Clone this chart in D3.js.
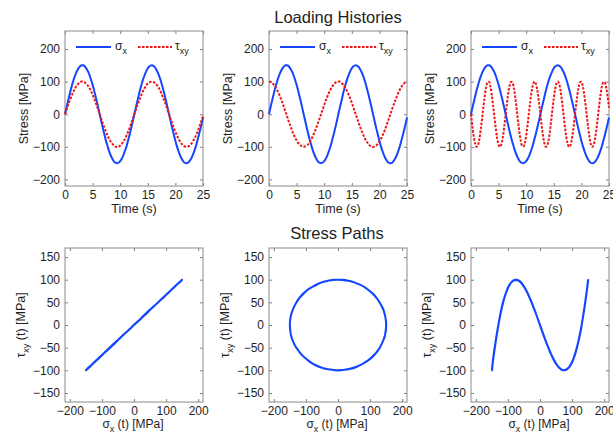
<!DOCTYPE html>
<html>
<head>
<meta charset="utf-8">
<script src="https://cdn.jsdelivr.net/npm/d3@7"></script>
<style>
  body { margin: 0; background: #fff; }
  svg { font-family: "Liberation Sans", Arial, sans-serif; }
  .tick line { stroke: #808080; }
</style>
</head>
<body>
<svg id="chart" width="613" height="434"></svg>
<script>
// sample times, 0..25 s every 0.25 s
const time = d3.range(0, 25.001, 0.25);

// sigma_x [MPa] (same in all three histories)
const sigmaX = [0, 19, 37, 55, 72, 88, 102, 115, 126, 135, 142, 147, 150, 150, 148, 143, 136, 128, 117, 104,
  90, 74, 57, 40, 21, 2, -16, -35, -53, -70, -86, -100, -114, -125, -134, -142, -147, -149, -150, -148,
  -144, -137, -129, -118, -106, -92, -76, -60, -42, -24, -5, 14, 32, 50, 68, 84, 99, 112, 123, 133,
  141, 146, 149, 150, 148, 145, 138, 130, 120, 108, 94, 78, 62, 44, 26, 7, -11, -30, -48, -65,
  -82, -97, -110, -122, -132, -140, -146, -149, -150, -149, -145, -139, -131, -121, -109, -96, -80, -64, -47, -29, -10];

// tau_xy [MPa], in phase
const tauInPhase = [0, 12, 25, 37, 48, 59, 68, 77, 84, 90, 95, 98, 100, 100, 98, 95, 91, 85, 78, 69,
  60, 49, 38, 26, 14, 2, -11, -23, -35, -46, -57, -67, -76, -83, -89, -94, -98, -100, -100, -99,
  -96, -92, -86, -79, -71, -61, -51, -40, -28, -16, -3, 9, 22, 34, 45, 56, 66, 75, 82, 89,
  94, 97, 99, 100, 99, 96, 92, 87, 80, 72, 62, 52, 41, 30, 17, 5, -8, -20, -32, -44,
  -54, -64, -73, -81, -88, -93, -97, -99, -100, -99, -97, -93, -88, -81, -73, -64, -54, -43, -31, -19, -7];

// tau_xy [MPa], 90 degrees out of phase
const tauOutPhase = [100, 99, 97, 93, 88, 81, 73, 64, 54, 43, 32, 19, 7, -5, -18, -30, -42, -53, -63, -72,
  -80, -87, -92, -96, -99, -100, -99, -97, -94, -89, -82, -74, -65, -55, -45, -33, -21, -9, 4, 16,
  28, 40, 51, 62, 71, 79, 86, 92, 96, 99, 100, 100, 98, 94, 89, 83, 75, 67, 57, 46,
  35, 23, 10, -2, -15, -27, -39, -50, -60, -70, -78, -85, -91, -96, -98, -100, -100, -98, -95, -90,
  -84, -76, -68, -58, -48, -36, -24, -12, 0, 13, 25, 37, 48, 59, 68, 77, 84, 90, 95, 98, 100];

// tau_xy [MPa], three times the frequency
const tauTriple = [0, -37, -68, -90, -100, -95, -78, -49, -14, 23, 57, 83, 98, 99, 86, 61, 28, -9, -45, -75,
  -94, -100, -92, -72, -41, -5, 32, 64, 88, 99, 97, 81, 54, 19, -18, -53, -80, -97, -99, -88,
  -65, -33, 4, 41, 71, 92, 100, 94, 75, 46, 10, -27, -61, -86, -99, -98, -84, -58, -24, 13,
  49, 77, 95, 100, 91, 69, 37, 1, -36, -68, -90, -100, -96, -78, -50, -15, 22, 57, 83, 98,
  99, 86, 62, 29, -8, -44, -74, -94, -100, -93, -72, -42, -6, 31, 64, 88, 99, 97, 81, 54, 20];

const tauCases = [tauInPhase, tauOutPhase, tauTriple];

const timeTicks = [0, 5, 10, 15, 20, 25];
const stressTicks = [-200, -100, 0, 100, 200];
const pathXTicks = [-200, -100, 0, 100, 200];
const pathYTicks = [-150, -100, -50, 0, 50, 100, 150];

const blue = '#1446ff';
const red = '#ee1515';
const ink = '#1e1e1e';

const svg = d3.select('#chart');
const colLeft = [65, 269, 471];
const boxW = 138;
const topRow = { y: 31, h: 155 };
const botRow = { y: 248, h: 154 };

svg.append('text').attr('x', 338).attr('y', 23).attr('text-anchor', 'middle')
  .style('font-size', '16.5px').attr('fill', ink).text('Loading Histories');
svg.append('text').attr('x', 337).attr('y', 239).attr('text-anchor', 'middle')
  .style('font-size', '16.5px').attr('fill', ink).text('Stress Paths');

function frame(g, x, y, w, h, xTicks, yTicks) {
  g.append('g').attr('transform', `translate(0,${h})`)
    .call(d3.axisBottom(x).tickValues(xTicks).tickSize(-3).tickPadding(4))
    .call(a => a.select('.domain').remove());
  g.append('g')
    .call(d3.axisTop(x).tickValues(xTicks).tickSize(-3).tickFormat(''))
    .call(a => a.select('.domain').remove());
  g.append('g')
    .call(d3.axisLeft(y).tickValues(yTicks).tickSize(-3).tickPadding(5))
    .call(a => a.select('.domain').remove());
  g.append('g').attr('transform', `translate(${w},0)`)
    .call(d3.axisRight(y).tickValues(yTicks).tickSize(-3).tickFormat(''))
    .call(a => a.select('.domain').remove());
  g.append('rect').attr('width', w).attr('height', h)
    .attr('fill', 'none').attr('stroke', '#8a8a8a').attr('stroke-width', 1);
  g.selectAll('.tick text').attr('fill', ink).style('font-size', '12px');
}

// symbol with subscript
function subText(sel, sym, sub) {
  sel.append('tspan').text(sym);
  sel.append('tspan').attr('dy', 4).style('font-size', '9px').text(sub);
}

// loading histories
tauCases.forEach((tau, i) => {
  const g = svg.append('g').attr('transform', `translate(${colLeft[i]},${topRow.y})`);
  const x = d3.scaleLinear().domain([0, 25]).range([0, boxW]);
  const y = d3.scaleLinear().domain([-220, 255]).range([topRow.h, 0]);
  frame(g, x, y, boxW, topRow.h, timeTicks, stressTicks);

  const line = d3.line().curve(d3.curveCatmullRom).x((d, k) => x(time[k])).y(d => y(d));
  g.append('path').datum(sigmaX).attr('d', line)
    .attr('fill', 'none').attr('stroke', blue).attr('stroke-width', 2);
  g.append('path').datum(tau).attr('d', line)
    .attr('fill', 'none').attr('stroke', red).attr('stroke-width', 2).attr('stroke-dasharray', '2.5,1.5');

  // legend
  const lg = g.append('g').attr('transform', 'translate(0,16)');
  lg.append('line').attr('x1', 11).attr('x2', 46).attr('stroke', blue).attr('stroke-width', 2);
  subText(lg.append('text').attr('x', 50).attr('y', 3).style('font-size', '12px').attr('fill', ink), 'σ', 'x');
  lg.append('line').attr('x1', 73).attr('x2', 107).attr('stroke', red).attr('stroke-width', 2)
    .attr('stroke-dasharray', '2.5,1.5');
  subText(lg.append('text').attr('x', 110).attr('y', 3).style('font-size', '12px').attr('fill', ink), 'τ', 'xy');

  g.append('text').attr('x', boxW / 2).attr('y', topRow.h + 27).attr('text-anchor', 'middle')
    .style('font-size', '12.5px').attr('fill', ink).text('Time (s)');
  g.append('text').attr('transform', `translate(-37,${topRow.h / 2}) rotate(-90)`)
    .attr('text-anchor', 'middle').style('font-size', '12.5px').attr('fill', ink).text('Stress [MPa]');
});

// stress paths
tauCases.forEach((tau, i) => {
  const g = svg.append('g').attr('transform', `translate(${colLeft[i]},${botRow.y})`);
  const x = d3.scaleLinear().domain([-215, 215]).range([0, boxW]);
  const y = d3.scaleLinear().domain([-170, 170]).range([botRow.h, 0]);
  frame(g, x, y, boxW, botRow.h, pathXTicks, pathYTicks);

  const line = d3.line().curve(d3.curveCatmullRom).x(d => x(d[0])).y(d => y(d[1]));
  g.append('path').datum(d3.zip(sigmaX, tau)).attr('d', line)
    .attr('fill', 'none').attr('stroke', blue).attr('stroke-width', 2);

  const xl = g.append('text').attr('x', boxW / 2 - 1).attr('y', botRow.h + 26).attr('text-anchor', 'middle')
    .style('font-size', '12px').attr('fill', ink);
  subText(xl, 'σ', 'x');
  xl.append('tspan').attr('dy', -4).text(' (t) [MPa]');

  const yl = g.append('text').attr('transform', `translate(-40,${botRow.h / 2}) rotate(-90)`)
    .attr('text-anchor', 'middle').style('font-size', '12.5px').attr('fill', ink);
  subText(yl, 'τ', 'xy');
  yl.append('tspan').attr('dy', -4).text(' (t) [MPa]');
});
</script>
</body>
</html>
